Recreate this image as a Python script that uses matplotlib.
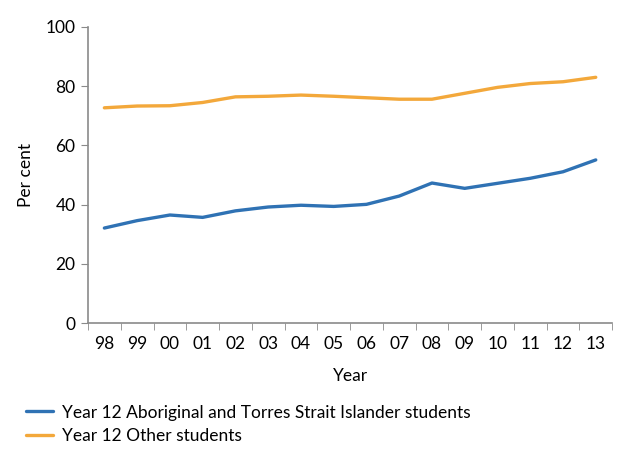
import matplotlib.pyplot as plt

years = ['98', '99', '00', '01', '02', '03', '04', '05', '06', '07',
         '08', '09', '10', '11', '12', '13']
indigenous = [32.1, 34.6, 36.5, 35.7, 37.9, 39.2, 39.8, 39.4, 40.1, 42.9,
              47.3, 45.5, 47.2, 48.9, 51.1, 55.1]
other = [72.7, 73.3, 73.4, 74.5, 76.4, 76.6, 77.0, 76.6, 76.1, 75.6,
         75.6, 77.6, 79.6, 80.9, 81.5, 83.0]

plt.rcParams['font.family'] = ['Lato', 'DejaVu Sans']
grey = '#8a8a8a'
fs = 12.5

fig = plt.figure(figsize=(6.24, 4.57), dpi=100)
ax = fig.add_axes([0.141, 0.293, 0.840, 0.648])

x = list(range(len(years)))
l1, = ax.plot(x, indigenous, color='#2f72b4', lw=2.4, solid_capstyle='round',
              label='Year 12 Aboriginal and Torres Strait Islander students')
l2, = ax.plot(x, other, color='#f3a83b', lw=2.4, solid_capstyle='round',
              label='Year 12 Other students')

ax.set_xlim(-0.5, len(years) - 0.5)
ax.set_ylim(0, 100)
ax.set_yticks(range(0, 101, 20))
ax.set_xticks(x)
ax.set_xticklabels(years)
ax.set_xticks([i - 0.5 for i in range(len(years) + 1)], minor=True)
ax.tick_params(axis='x', which='major', length=0, pad=9, labelsize=fs)
ax.tick_params(axis='x', which='minor', length=5, color=grey, direction='out')
ax.tick_params(axis='y', length=5, color=grey, labelsize=fs, pad=4)

for s in ['top', 'right']:
    ax.spines[s].set_visible(False)
for s in ['left', 'bottom']:
    ax.spines[s].set_color(grey)
    ax.spines[s].set_linewidth(1.2)

ax.set_xlabel('Year', fontsize=fs, labelpad=12)
ax.set_ylabel('Per cent', fontsize=fs, labelpad=8)

fig.legend(handles=[l1, l2], loc='upper left', bbox_to_anchor=(0.03, 0.13),
           frameon=False, fontsize=fs, handlelength=1.6, handletextpad=0.5,
           labelspacing=0.45, borderaxespad=0)

fig.savefig('out.png', dpi=100, facecolor='white')
